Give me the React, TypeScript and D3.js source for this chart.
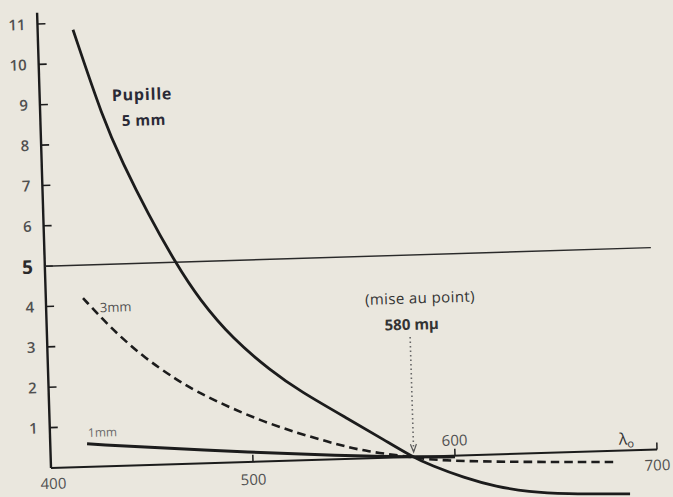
import React from 'react';
import * as d3 from 'd3';

const W = 673;
const H = 497;

// courbes : x = longueur d'onde (mμ), y = valeur de l'axe vertical
const pupil5X = [417.5, 431, 440, 452, 464.5, 476, 492, 510, 524, 549, 565, 579, 588, 604, 620, 636, 653, 686];
const pupil5Y = [10.83, 8.6, 7.5, 6.2, 5.0, 4.05, 3.05, 2.25, 1.72, 0.95, 0.45, 0, -0.22, -0.55, -0.8, -0.95, -1.03, -1.08];
const pupil3X = [418.4, 431.3, 447.2, 463.7, 475, 506, 539.5, 556.6, 579, 587.6, 620.8, 680.2];
const pupil3Y = [4.18, 3.44, 2.68, 2.08, 1.72, 0.95, 0.4, 0.16, 0, -0.09, -0.19, -0.28];
const pupil1X = [418.2, 472.5, 548, 579, 600];
const pupil1Y = [0.57, 0.33, 0.07, 0, -0.03];
const limitX = [400, 700];
const limitY = [5, 5];

const yTicks = [1, 2, 3, 4, 5, 6, 7, 8, 9, 10, 11];
const xTicks = [500, 600, 700];
const xLabels = [400, 500, 600, 700];
const focus = 579.6;

const zip = (xs: number[], ys: number[]) => xs.map((v, i) => [v, ys[i]] as [number, number]);

export default function App() {
  // la page photographiée est un peu de travers
  const x = d3.scaleLinear().domain([400, 700]).range([0, 606.3]);
  const y = d3.scaleLinear().domain([0, 11]).range([0, -444.2]);

  const line = d3.line<[number, number]>()
    .x(d => x(d[0]))
    .y(d => y(d[1]))
    .curve(d3.curveBasis);

  const ink = '#1c1c1c';

  return (
    <svg width={W} height={H} style={{ position: 'absolute', left: 0, top: 0 }}
      fontFamily="'Open Sans', 'DejaVu Sans', sans-serif">
      <rect width={W} height={H} fill="#eae7de" />
      <g transform="translate(51,468) rotate(-1.75)">
        {/* axe vertical */}
        <line x1={0} x2={0} y1={0} y2={y(11.28)} stroke={ink} strokeWidth={2.4} />
        {yTicks.map(t => (
          <g key={t}>
            <line x1={0} x2={8} y1={y(t)} y2={y(t)} stroke={ink} strokeWidth={1.6} />
            <text x={-12} y={y(t) + (t === 5 ? 7 : 5.5)} textAnchor="end"
              fontSize={t === 5 ? 19 : 15} fontWeight={t === 5 ? 700 : 600}
              fill={t === 5 ? '#2a2a2a' : '#505050'}>{t}</text>
          </g>
        ))}

        {/* axe horizontal */}
        <line x1={0} x2={x(700)} y1={0} y2={0} stroke={ink} strokeWidth={2} />
        {xTicks.map(t => (
          <line key={t} x1={x(t)} x2={x(t)} y1={0} y2={-7} stroke={ink} strokeWidth={1.5} />
        ))}
        {xLabels.map(t => (
          <text key={t} x={x(t) + (t === 400 ? 2 : 0)} y={t === 600 ? -10 : t === 500 ? 23 : 21}
            textAnchor="middle" fontSize={15} fill="#505050">{t}</text>
        ))}
        <text x={x(685)} y={-6} textAnchor="middle" fontSize={16} fill="#333">
          λ<tspan fontSize={11} dy={3}>o</tspan>
        </text>

        {/* limite à 5 */}
        <path d={d3.line<[number, number]>().x(d => x(d[0])).y(d => y(d[1]))(zip(limitX, limitY)) || ''}
          fill="none" stroke="#2a2a2a" strokeWidth={1.4} />

        {/* courbes */}
        <path d={line(zip(pupil1X, pupil1Y)) || ''} fill="none" stroke={ink} strokeWidth={3} />
        <path d={line(zip(pupil3X, pupil3Y)) || ''} fill="none" stroke={ink} strokeWidth={2.6}
          strokeDasharray="8.5,5" />
        <path d={line(zip(pupil5X, pupil5Y)) || ''} fill="none" stroke={ink} strokeWidth={2.8} />

        {/* mise au point */}
        <line x1={x(focus)} x2={x(focus)} y1={y(2.97)} y2={y(0.12)} stroke="#666"
          strokeWidth={1.6} strokeDasharray="1.5,3" />
        <path d={`M${x(focus) - 3},${y(0.12) - 8} L${x(focus)},${y(0.12)} L${x(focus) + 3},${y(0.12) - 8}`}
          fill="none" stroke="#555" strokeWidth={1.2} />

        {/* étiquettes */}
        <text x={x(435.7)} y={y(9.04)} fontSize={16} fontWeight={700} letterSpacing={0.8} fill="#2a2a36">Pupille</text>
        <text x={x(440.3)} y={y(8.41)} fontSize={15} fontWeight={700} letterSpacing={0.5} fill="#2a2a36">5 mm</text>
        <text x={x(426.6)} y={y(3.82)} fontSize={13} fill="#505050">3mm</text>
        <text x={x(418.8)} y={y(0.74)} fontSize={12} fill="#6a6a6a">1mm</text>
        <text x={x(focus) + 11} y={y(3.8)} textAnchor="middle" fontSize={15} letterSpacing={0.4} fill="#333">(mise au point)</text>
        <text x={x(focus) + 2} y={y(3.15)} textAnchor="middle" fontSize={15} fontWeight={700} fill="#333">580 mμ</text>
      </g>
    </svg>
  );
}
